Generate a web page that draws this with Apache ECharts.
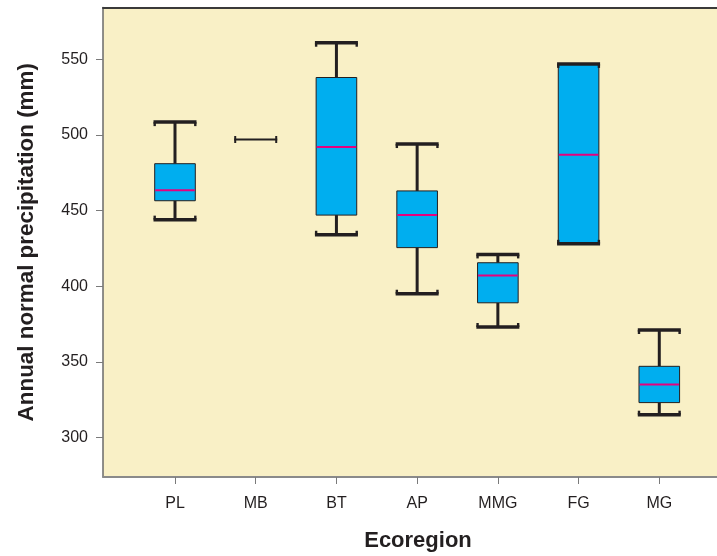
<!DOCTYPE html>
<html>
<head>
<meta charset="utf-8">
<script src="https://cdn.jsdelivr.net/npm/echarts@6/dist/echarts.min.js"></script>
<style>
html,body{margin:0;padding:0;background:#fff;}
#chart{width:717px;height:556px;}
</style>
</head>
<body>
<div id="chart"></div>
<script>
const categories = ['PL', 'MB', 'BT', 'AP', 'MMG', 'FG', 'MG'];
const whiskerLow  = [444, 497, 434, 395, 373, 428, 315];
const q1Values    = [456.5, 497, 447, 425.5, 389, 428, 323];
const medians     = [463.5, 497, 492, 447, 407, 487, 335];
const q3Values    = [481, 497, 538, 463, 415.5, 547, 347];
const whiskerHigh = [508.5, 497, 561, 494, 421, 547, 371];
const yTicks = [300, 350, 400, 450, 500, 550];
const xTicks = categories.map((c, i) => i);

const seriesData = categories.map((c, i) => [i, whiskerLow[i], q1Values[i], medians[i], q3Values[i], whiskerHigh[i]]);

const INK = '#231F20';
const FONT = 'Liberation Sans, Arial, sans-serif';

function renderItem(params, api) {
  const x = api.value(0);
  const pMin = api.coord([x, api.value(1)]);
  const pQ1 = api.coord([x, api.value(2)]);
  const pMed = api.coord([x, api.value(3)]);
  const pQ3 = api.coord([x, api.value(4)]);
  const pMax = api.coord([x, api.value(5)]);
  const cx = pMin[0];
  const boxHalf = 20.3;
  const capHalf = 21.5;
  const children = [];
  const degenerate = Math.abs(pMin[1] - pMax[1]) < 0.5;
  if (degenerate) {
    const y = pMed[1];
    children.push({type: 'line', shape: {x1: cx - capHalf, y1: y, x2: cx + capHalf, y2: y}, style: {stroke: INK, lineWidth: 2}});
    children.push({type: 'line', shape: {x1: cx - capHalf + 1, y1: y - 3.5, x2: cx - capHalf + 1, y2: y + 3.5}, style: {stroke: INK, lineWidth: 2}});
    children.push({type: 'line', shape: {x1: cx + capHalf - 1, y1: y - 3.5, x2: cx + capHalf - 1, y2: y + 3.5}, style: {stroke: INK, lineWidth: 2}});
    return {type: 'group', children: children};
  }
  if (pQ3[1] - pMax[1] > 0.5) {
    children.push({type: 'line', shape: {x1: cx, y1: pMax[1], x2: cx, y2: pQ3[1]}, style: {stroke: INK, lineWidth: 3}});
  }
  if (pMin[1] - pQ1[1] > 0.5) {
    children.push({type: 'line', shape: {x1: cx, y1: pQ1[1], x2: cx, y2: pMin[1]}, style: {stroke: INK, lineWidth: 3}});
  }
  children.push({type: 'rect', shape: {x: cx - boxHalf, y: pQ3[1], width: boxHalf * 2, height: pQ1[1] - pQ3[1]},
    style: {fill: '#00AEEF', stroke: INK, lineWidth: 1}});
  children.push({type: 'line', shape: {x1: cx - boxHalf + 0.5, y1: pMed[1], x2: cx + boxHalf - 0.5, y2: pMed[1]}, style: {stroke: '#E6007E', lineWidth: 2}});
  const capTop = pMax[1], capBot = pMin[1];
  children.push({type: 'line', shape: {x1: cx - capHalf, y1: capTop, x2: cx + capHalf, y2: capTop}, style: {stroke: INK, lineWidth: 3.5}});
  children.push({type: 'polyline', shape: {points: [[cx - capHalf + 1.2, capTop], [cx - capHalf + 1.2, capTop + 4]]}, style: {stroke: INK, lineWidth: 2.4, fill: null}});
  children.push({type: 'polyline', shape: {points: [[cx + capHalf - 1.2, capTop], [cx + capHalf - 1.2, capTop + 4]]}, style: {stroke: INK, lineWidth: 2.4, fill: null}});
  children.push({type: 'line', shape: {x1: cx - capHalf, y1: capBot, x2: cx + capHalf, y2: capBot}, style: {stroke: INK, lineWidth: 3.5}});
  children.push({type: 'polyline', shape: {points: [[cx - capHalf + 1.2, capBot], [cx - capHalf + 1.2, capBot - 4]]}, style: {stroke: INK, lineWidth: 2.4, fill: null}});
  children.push({type: 'polyline', shape: {points: [[cx + capHalf - 1.2, capBot], [cx + capHalf - 1.2, capBot - 4]]}, style: {stroke: INK, lineWidth: 2.4, fill: null}});
  return {type: 'group', children: children};
}

const chart = echarts.init(document.getElementById('chart'), null, {renderer: 'canvas'});
chart.setOption({
  animation: false,
  backgroundColor: '#ffffff',
  grid: {
    left: 103, top: 7.5, right: 0, bottom: 79,
    outerBoundsMode: 'none',
    containLabel: false,
    show: true, backgroundColor: '#F9F0C6', borderWidth: 0
  },
  xAxis: [{
    type: 'value',
    min: -0.892, max: 6.715,
    splitLine: {show: false},
    axisLine: {show: true, onZero: false, lineStyle: {color: '#8a8a8a', width: 2}},
    axisTick: {show: true, customValues: xTicks, length: 7, lineStyle: {color: '#7a7a7a', width: 1}},
    axisLabel: {
      customValues: xTicks,
      formatter: v => categories[Math.round(v)],
      fontFamily: FONT, fontSize: 16, color: INK, margin: 19
    },
    name: 'Ecoregion',
    nameLocation: 'middle',
    nameGap: 53,
    nameTextStyle: {fontFamily: FONT, fontSize: 22, fontWeight: 'bold', color: INK, padding: [0, 0, 0, 16]}
  }, {
    type: 'value',
    position: 'top',
    min: -0.892, max: 6.715,
    splitLine: {show: false},
    axisLine: {show: true, onZero: false, lineStyle: {color: '#3a3a3a', width: 2}},
    axisTick: {show: false},
    axisLabel: {show: false}
  }],
  yAxis: {
    type: 'value',
    min: 273.8, max: 584.3,
    splitLine: {show: false},
    axisLine: {show: true, onZero: false, lineStyle: {color: '#6a6a6a', width: 1.5}},
    axisTick: {show: true, customValues: yTicks, length: 7, lineStyle: {color: '#7a7a7a', width: 1}},
    axisLabel: {
      customValues: yTicks,
      fontFamily: FONT, fontSize: 16, color: INK, margin: 15
    },
    name: 'Annual normal precipitation (mm)',
    nameLocation: 'middle',
    nameGap: 65,
    nameTextStyle: {fontFamily: FONT, fontSize: 22.4, fontWeight: 'bold', color: INK}
  },
  series: [{
    type: 'custom',
    renderItem: renderItem,
    encode: {x: 0, y: [1, 2, 3, 4, 5]},
    data: seriesData,
    clip: false
  }]
});
</script>
</body>
</html>
